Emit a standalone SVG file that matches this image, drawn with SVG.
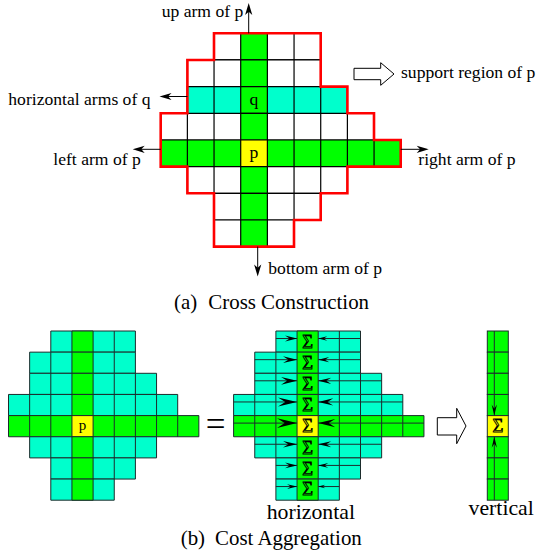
<svg xmlns="http://www.w3.org/2000/svg" xmlns:xlink="http://www.w3.org/1999/xlink" width="538" height="555" viewBox="0 0 538 555">
<style>
text{font-family:"Liberation Serif","Times New Roman",serif;fill:#000}
.lbl{font-size:17.6px}
.cap{font-size:20.9px}
.big{font-size:21.8px}
.cell{font-size:17.6px;text-anchor:middle}
.sig{font-size:18.5px;text-anchor:middle;fill:none;stroke:#000;stroke-width:0.9}
.w{fill:#fff}.c{fill:#00ffcc}.g{fill:#00ff00}.y{fill:#ffff00}
.ga{stroke:#000;stroke-width:1.2}
.gb{stroke:#1c2c2c;stroke-width:1}
.ln{stroke:#000;stroke-width:1;fill:none}
.red{fill:none;stroke:#ff0000;stroke-width:2.6;stroke-linejoin:miter}
.hollow{fill:#fff;stroke:#000;stroke-width:1}
.ah{fill:#000;stroke:none}
</style>
<defs>
<g id="rows">
<rect x="2" y="0" width="4" height="1" vector-effect="non-scaling-stroke"/>
<rect x="1" y="1" width="5" height="1" vector-effect="non-scaling-stroke"/>
<rect x="1" y="2" width="6" height="1" vector-effect="non-scaling-stroke"/>
<rect x="0" y="3" width="8" height="1" vector-effect="non-scaling-stroke"/>
<rect class="g" x="0" y="4" width="9" height="1" vector-effect="non-scaling-stroke"/>
<rect x="1" y="5" width="6" height="1" vector-effect="non-scaling-stroke"/>
<rect x="2" y="6" width="4" height="1" vector-effect="non-scaling-stroke"/>
<rect x="2" y="7" width="3" height="1" vector-effect="non-scaling-stroke"/>
</g>
<g id="col">
<rect class="g" x="3" y="0" width="1" height="1" vector-effect="non-scaling-stroke"/>
<rect class="g" x="3" y="1" width="1" height="1" vector-effect="non-scaling-stroke"/>
<rect class="g" x="3" y="2" width="1" height="1" vector-effect="non-scaling-stroke"/>
<rect class="g" x="3" y="3" width="1" height="1" vector-effect="non-scaling-stroke"/>
<rect class="y" x="3" y="4" width="1" height="1" vector-effect="non-scaling-stroke"/>
<rect class="g" x="3" y="5" width="1" height="1" vector-effect="non-scaling-stroke"/>
<rect class="g" x="3" y="6" width="1" height="1" vector-effect="non-scaling-stroke"/>
<rect class="g" x="3" y="7" width="1" height="1" vector-effect="non-scaling-stroke"/>
</g>
<path id="vl" fill="none" vector-effect="non-scaling-stroke" d="M5 0v1M2 1v1M5 1v1M2 2v1M5 2v1M6 2v1M1 3v1M2 3v1M5 3v1M6 3v1M7 3v1M1 4v1M2 4v1M5 4v1M6 4v1M7 4v1M8 4v1M2 5v1M5 5v1M6 5v1M5 6v1"/>
<path id="ah" d="M0 0L-1 -0.24L-0.62 0L-1 0.24Z"/>
<path id="ah2" d="M0 0L-1 -0.3L-0.72 0L-1 0.3Z"/>
</defs>

<g id="cross-construction">
<g class="ga" transform="translate(160.7 33.3) scale(26.67)">
<use href="#rows" fill="#fff"/>
<rect class="c" x="1" y="2" width="6" height="1" vector-effect="non-scaling-stroke"/>
<use href="#col"/>
<use href="#vl"/>
</g>
<path class="red" d="M214 33.3H320.7V86.6H347.4V113.3H374V140H400.7V166.6H347.4V193.3H320.7V220H294V246.6H214V193.3H187.4V166.6H160.7V113.3H187.4V60H214Z"/>
<text class="cell" x="254" y="104.8">q</text>
<text class="cell" x="254" y="158">p</text>
</g>

<g id="connectors">
<path class="ln" d="M248.7 33.3V8M257.7 246.6V272M187.4 96.5H164M160.7 149.3H137M400.7 149.3H424"/>
<use class="ah" href="#ah2" transform="translate(248.7 3) rotate(-90) scale(12)"/>
<use class="ah" href="#ah2" transform="translate(257.7 276.5) rotate(90) scale(12)"/>
<use class="ah" href="#ah2" transform="translate(159.5 96.5) rotate(180) scale(12)"/>
<use class="ah" href="#ah2" transform="translate(132.7 149.3) rotate(180) scale(12)"/>
<use class="ah" href="#ah2" transform="translate(428.7 149.3) scale(12)"/>
<polygon id="support-arrow" class="hollow" points="354,68.3 380.7,68.3 380.7,62.7 394,74 380.7,85.3 380.7,79.7 354,79.7"/>
<polygon id="then-arrow" class="hollow" points="437.3,417.7 456.7,417.7 456.7,408.3 466,426 456.7,443.7 456.7,435 437.3,435"/>
</g>

<g id="labels-a">
<text class="lbl" x="161.7" y="17">up arm of p</text>
<text class="lbl" x="401" y="77.5">support region of p</text>
<text class="lbl" x="8.3" y="105">horizontal arms of q</text>
<text class="lbl" x="53.3" y="165">left arm of p</text>
<text class="lbl" x="418.3" y="165">right arm of p</text>
<text class="lbl" x="268.3" y="273.5">bottom arm of p</text>
<text class="cap" x="174" y="309.3">(a)</text>
<text class="cap" x="208.3" y="309.3">Cross Construction</text>
</g>

<g id="support-grid">
<g class="gb" transform="translate(8.5 331) scale(21.15)">
<use href="#rows" fill="#00ffcc"/>
<use href="#col"/>
<use href="#vl"/>
</g>
<text x="82.5" y="429.8" style="font-size:15px;text-anchor:middle">p</text>
</g>

<text id="equals" x="215.5" y="436" style="font-size:35px;text-anchor:middle">=</text>

<g id="horizontal-aggregation">
<g class="gb" transform="translate(233.6 331) scale(21.15)">
<use href="#rows" fill="#00ffcc"/>
<use href="#col"/>
<use href="#vl"/>
<path fill="none" vector-effect="non-scaling-stroke" d="M2 .355H3M4 .355H6M1 1.355H3M4 1.355H6M1 2.355H3M4 2.355H7M0 3.355H3M4 3.355H8M0 4.355H3M4 4.355H9M1 5.355H3M4 5.355H7M2 6.355H3M4 6.355H6M2 7.355H3M4 7.355H5"/>
</g>
<g class="ah">
<use href="#ah" transform="translate(297.05 338.5) scale(12)"/>
<use href="#ah" transform="translate(318.2 338.5) scale(-9 9)"/>
<use href="#ah" transform="translate(297.05 359.65) scale(14)"/>
<use href="#ah" transform="translate(318.2 359.65) scale(-11 11)"/>
<use href="#ah" transform="translate(297.05 380.8) scale(16)"/>
<use href="#ah" transform="translate(318.2 380.8) scale(-13 13)"/>
<use href="#ah" transform="translate(297.05 401.95) scale(19)"/>
<use href="#ah" transform="translate(318.2 401.95) scale(-15 15)"/>
<use href="#ah" transform="translate(297.05 423.1) scale(20)"/>
<use href="#ah" transform="translate(318.2 423.1) scale(-17 17)"/>
<use href="#ah" transform="translate(297.05 444.25) scale(14)"/>
<use href="#ah" transform="translate(318.2 444.25) scale(-13 13)"/>
<use href="#ah" transform="translate(297.05 465.4) scale(12)"/>
<use href="#ah" transform="translate(318.2 465.4) scale(-10 10)"/>
<use href="#ah" transform="translate(297.05 486.55) scale(10)"/>
<use href="#ah" transform="translate(318.2 486.55) scale(-7 7)"/>
</g>
<text class="sig" x="307.6" y="347.8">Σ</text>
<text class="sig" x="307.6" y="368.95">Σ</text>
<text class="sig" x="307.6" y="390.1">Σ</text>
<text class="sig" x="307.6" y="411.25">Σ</text>
<text class="sig" x="307.6" y="432.4">Σ</text>
<text class="sig" x="307.6" y="453.55">Σ</text>
<text class="sig" x="307.6" y="474.7">Σ</text>
<text class="sig" x="307.6" y="495.3">Σ</text>
<text class="big" x="266.7" y="519">horizontal</text>
</g>

<g id="vertical-aggregation">
<g class="gb">
<rect class="g" x="487.3" y="331" width="21" height="21.15"/>
<rect class="g" x="487.3" y="352.15" width="21" height="21.15"/>
<rect class="g" x="487.3" y="373.3" width="21" height="21.15"/>
<rect class="g" x="487.3" y="394.45" width="21" height="21.15"/>
<rect class="y" x="487.3" y="415.6" width="21" height="21.15"/>
<rect class="g" x="487.3" y="436.75" width="21" height="21.15"/>
<rect class="g" x="487.3" y="457.9" width="21" height="21.15"/>
<rect class="g" x="487.3" y="479.05" width="21" height="21.15"/>
<path fill="none" d="M494.3 331V415.6M494.3 436.75V500.2"/>
</g>
<use class="ah" href="#ah" transform="translate(494.3 415.6) rotate(90) scale(11)"/>
<use class="ah" href="#ah" transform="translate(494.3 436.75) rotate(-90) scale(11)"/>
<text class="sig" x="497.8" y="432.4">Σ</text>
<text class="big" x="468.5" y="514.5">vertical</text>
</g>

<text class="cap" x="180.7" y="545">(b)</text>
<text class="cap" x="215" y="545">Cost Aggregation</text>
</svg>
